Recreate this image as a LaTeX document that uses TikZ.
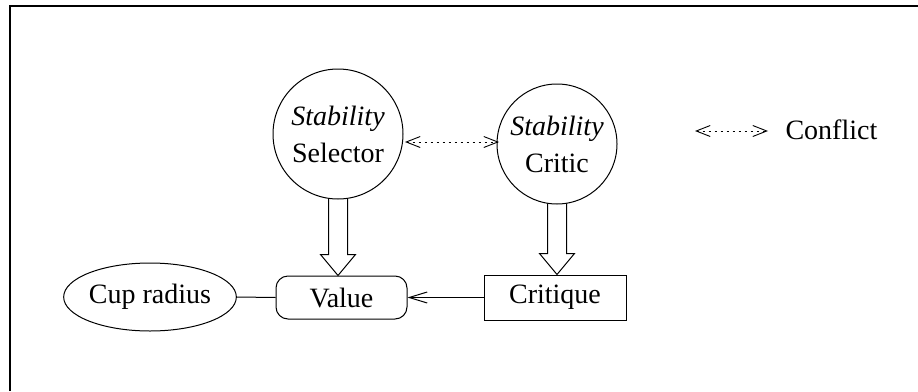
\documentclass[tikz,border=0pt]{standalone}
\usepackage{fontspec}
\setmainfont{Liberation Serif}
\usetikzlibrary{arrows.meta,calc,shapes.geometric}

\tikzset{
  every node/.style={font=\fontsize{28}{37}\selectfont, inner sep=0pt, line width=1pt},
  agent/.style={draw, circle, align=center},
  valbox/.style={draw, rectangle, rounded corners=12pt, minimum width=131pt, minimum height=43pt},
  critbox/.style={draw, rectangle, minimum width=142pt, minimum height=45pt},
  param/.style={draw, ellipse, minimum width=170pt, minimum height=68pt},
  link/.style={line width=1pt},
  feed/.style={line width=1pt, -{Straight Barb[length=18pt,width=11pt,line width=1pt]}},
  conflict/.style={line width=0.9pt, dash pattern=on 2.5pt off 3.5pt,
    {Straight Barb[length=14pt,width=11pt,line width=0.9pt]}-{Straight Barb[length=14pt,width=11pt,line width=0.9pt]}},
  hollow/.style={line width=1pt, line join=miter},
}

% hollow block arrow from the bottom of #1 down to the top of #2
\newcommand\hollowarrow[2]{%
  \draw[hollow] let \p1=(#1.south), \p2=(#2.north) in
    (\x1-9.5pt,\y1+0.8pt) -- (\x1-9.5pt,\y2+21pt) -- (\x1-17.5pt,\y2+21pt)
    -- (\x1,\y2) -- (\x1+17.5pt,\y2+21pt) -- (\x1+9.5pt,\y2+21pt) -- (\x1+9.5pt,\y1+0.8pt);}

\begin{document}
\begin{tikzpicture}[x=1pt,y=-1pt]
\useasboundingbox (0,0) rectangle (918,391);
% frame
\draw[line width=2pt] (9.5,391) -- (9.5,5.5) -- (918,5.5);

% agents
\node[agent, minimum size=130pt] (sel) at (338,134) {\textit{Stability}\\Selector};
\node[agent, minimum size=120pt] (crit) at (557,144) {\textit{Stability}\\Critic};

% lower row
\node[param] (cup) at (150,297) {Cup radius};
\node[valbox] (val) at (341.5,297.5) {Value};
\node[critbox] (cq) at (555,297.5) {Critique};

% connectors
\draw[conflict] ($(sel.center)+(67,8)$) -- ($(crit.center)+(-58,-2)$);
\hollowarrow{sel}{val}
\hollowarrow{crit}{cq}
\draw[feed] (cq.west) -- (val.east);
\draw[link] (cup.east) -- (val.west);

% legend
\coordinate (lg1) at (695,131);
\coordinate (lg2) at (768,131);
\draw[conflict] (lg1) -- (lg2);
\node[anchor=west] (lgt) at (785,130) {Conflict};
\end{tikzpicture}
\end{document}
